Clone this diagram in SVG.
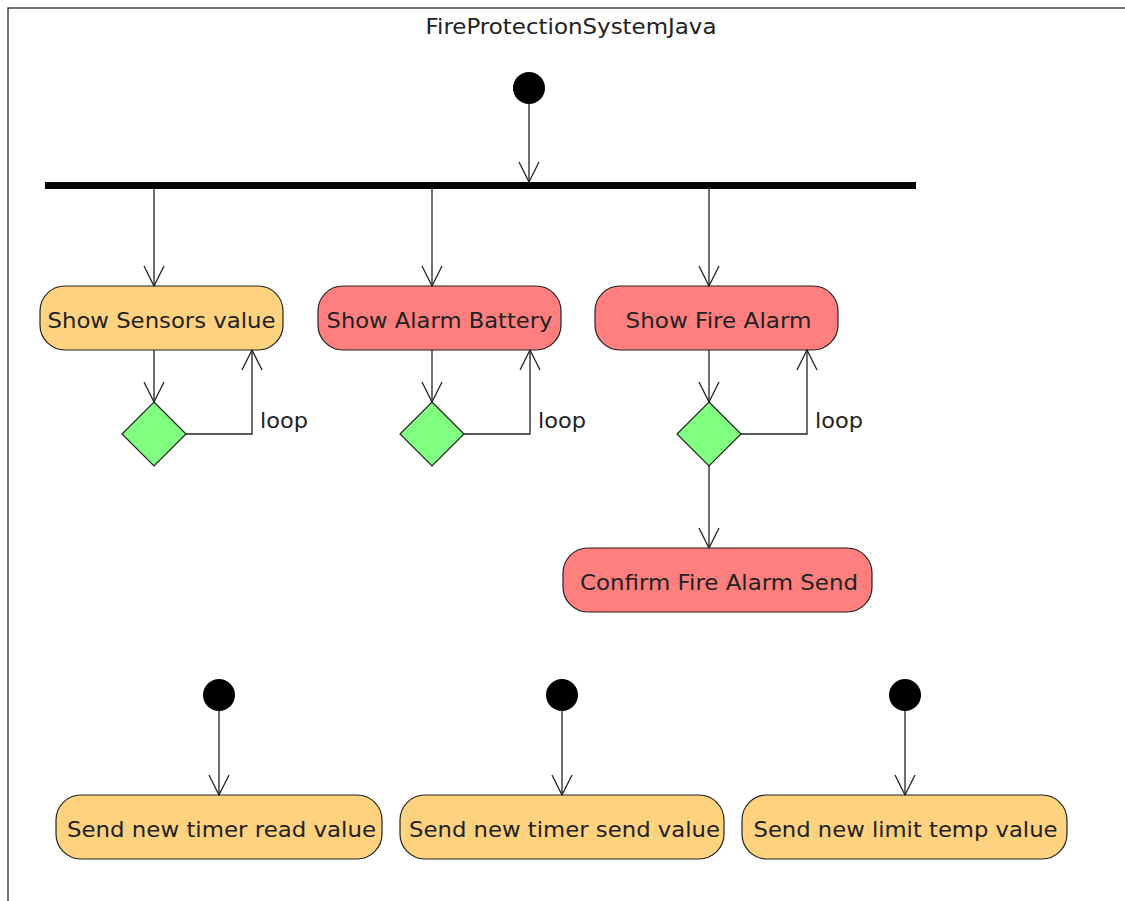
<svg xmlns="http://www.w3.org/2000/svg" width="1125" height="901" viewBox="0 0 1125 901">
<defs>
<style>
text{font-family:"DejaVu Sans","Liberation Sans",sans-serif;fill:#222;}
.lbl{font-size:22px;text-anchor:middle;}
.loop{font-size:22px;}
.orange{fill:#FED27F;stroke:#222;stroke-width:1.2;}
.red{fill:#FF7F7F;stroke:#222;stroke-width:1.2;}
.dia{fill:#80FF80;stroke:#222;stroke-width:1.2;}
.start{fill:#000;}
.edge{fill:none;stroke:#222;stroke-width:1.3;marker-end:url(#arr);}
</style>
<marker id="arr" viewBox="0 0 22 22" refX="21" refY="11" markerWidth="22" markerHeight="22" markerUnits="userSpaceOnUse" orient="auto">
<path d="M1,1 L21,11 L1,21" fill="none" stroke="#222" stroke-width="1.3"/>
</marker>
</defs>
<rect x="0" y="0" width="1125" height="901" fill="#fff"/>
<rect x="8" y="8" width="1130" height="920" fill="none" stroke="#222" stroke-width="1.3"/>
<text x="571" y="34" style="font-size:21px;text-anchor:middle" textLength="291" lengthAdjust="spacingAndGlyphs">FireProtectionSystemJava</text>

<g id="start1"><circle class="start" cx="529" cy="88" r="16"/></g>
<g id="fork"><rect x="45" y="182" width="871" height="7" fill="#000"/></g>

<g id="n_sensors"><rect class="orange" x="40" y="286" width="243" height="64" rx="25"/><text class="lbl" x="161.5" y="328" textLength="228" lengthAdjust="spacingAndGlyphs">Show Sensors value</text></g>
<g id="n_battery"><rect class="red" x="318" y="286" width="243" height="64" rx="25"/><text class="lbl" x="439.5" y="328" textLength="226" lengthAdjust="spacingAndGlyphs">Show Alarm Battery</text></g>
<g id="n_fire"><rect class="red" x="595" y="286" width="243" height="64" rx="25"/><text class="lbl" x="718.5" y="328" textLength="186" lengthAdjust="spacingAndGlyphs">Show Fire Alarm</text></g>

<g id="d1"><polygon class="dia" points="154,402 186,434 154,466 122,434"/></g>
<g id="d2"><polygon class="dia" points="432,402 464,434 432,466 400,434"/></g>
<g id="d3"><polygon class="dia" points="709,402 741,434 709,466 677,434"/></g>

<g id="n_confirm"><rect class="red" x="563" y="548" width="309" height="64" rx="25"/><text class="lbl" x="719" y="590" textLength="278" lengthAdjust="spacingAndGlyphs">Confirm Fire Alarm Send</text></g>

<g id="start2"><circle class="start" cx="219" cy="695" r="16"/></g>
<g id="start3"><circle class="start" cx="562" cy="695" r="16"/></g>
<g id="start4"><circle class="start" cx="905" cy="695" r="16"/></g>

<g id="n_timer_read"><rect class="orange" x="56" y="795" width="326" height="64" rx="25"/><text class="lbl" x="221.5" y="837" textLength="309" lengthAdjust="spacingAndGlyphs">Send new timer read value</text></g>
<g id="n_timer_send"><rect class="orange" x="400" y="795" width="324" height="64" rx="25"/><text class="lbl" x="564.5" y="837" textLength="311" lengthAdjust="spacingAndGlyphs">Send new timer send value</text></g>
<g id="n_limit"><rect class="orange" x="742" y="795" width="325" height="64" rx="25"/><text class="lbl" x="905.5" y="837" textLength="304" lengthAdjust="spacingAndGlyphs">Send new limit temp value</text></g>

<g id="connectors">
<path class="edge" d="M529,104 L529,182"/>
<path class="edge" d="M154,189 L154,286"/>
<path class="edge" d="M432,189 L432,286"/>
<path class="edge" d="M709,189 L709,286"/>
<path class="edge" d="M154,350 L154,402"/>
<path class="edge" d="M432,350 L432,402"/>
<path class="edge" d="M709,350 L709,402"/>
<path class="edge" d="M186,434 L252,434 L252,350"/>
<path class="edge" d="M464,434 L530,434 L530,350"/>
<path class="edge" d="M741,434 L807,434 L807,350"/>
<path class="edge" d="M709,466 L709,548"/>
<path class="edge" d="M219,711 L219,795"/>
<path class="edge" d="M562,711 L562,795"/>
<path class="edge" d="M905,711 L905,795"/>
<text class="loop" x="260" y="428" textLength="48" lengthAdjust="spacingAndGlyphs">loop</text>
<text class="loop" x="538" y="428" textLength="48" lengthAdjust="spacingAndGlyphs">loop</text>
<text class="loop" x="815" y="428" textLength="48" lengthAdjust="spacingAndGlyphs">loop</text>
</g>
</svg>
